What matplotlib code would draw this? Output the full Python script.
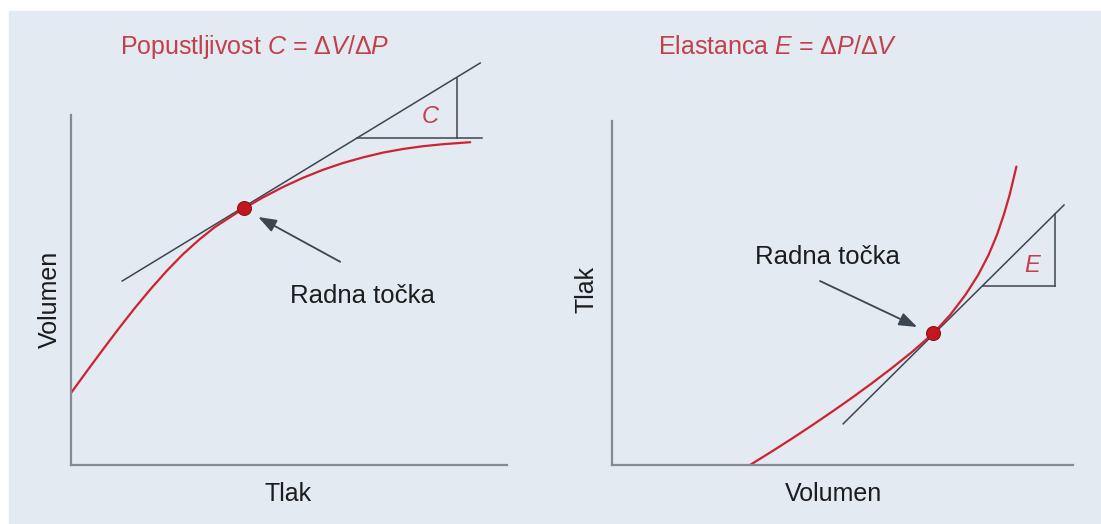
import matplotlib
matplotlib.use('Agg')
import matplotlib.pyplot as plt
from matplotlib import font_manager
from matplotlib.patches import Rectangle

# Fonts: a narrow Helvetica-like face if available
names = {f.name for f in font_manager.fontManager.ttflist}
FONT = 'Liberation Sans Narrow' if 'Liberation Sans Narrow' in names else 'Liberation Sans'
plt.rcParams['font.family'] = [FONT, 'DejaVu Sans']
plt.rcParams['mathtext.fontset'] = 'custom'
plt.rcParams['mathtext.rm'] = FONT
plt.rcParams['mathtext.it'] = FONT + ':italic'

# ---- left panel: compliance (volume vs pressure) ----
tlak_c = [0.0, 0.4, 0.8, 1.2, 1.6, 2.0, 2.4, 2.8, 3.2, 3.6, 4.0, 4.33,
          4.8, 5.3, 5.8, 6.3, 6.8, 7.3, 7.8, 8.3, 8.8, 9.3, 9.98]
vol_c = [1.80, 2.35, 2.89, 3.42, 3.93, 4.41, 4.86, 5.27, 5.63, 5.95, 6.21, 6.42,
         6.69, 6.95, 7.18, 7.38, 7.55, 7.69, 7.81, 7.90, 7.97, 8.02, 8.07]
radna_c = (4.33, 6.42)
tangent_c_x = [1.28, 10.23]
tangent_c_y = [4.60, 10.05]
tri_c_h_x = [7.15, 10.28]   # horizontal leg
tri_c_h_y = [8.18, 8.18]
tri_c_v_x = [9.65, 9.65]    # vertical leg
tri_c_v_y = [8.18, 9.68]

# ---- right panel: elastance (pressure vs volume) ----
vol_e = [3.45, 4.0, 4.5, 5.0, 5.5, 6.0, 6.5, 7.0, 7.5, 8.03,
         8.453, 8.833, 9.153, 9.413, 9.623, 9.793, 9.94, 10.06, 10.11]
tlak_e = [0.0, 0.341, 0.661, 0.991, 1.331, 1.681, 2.046, 2.426, 2.826, 3.29,
          3.75, 4.25, 4.75, 5.25, 5.75, 6.25, 6.75, 7.25, 7.46]
radna_e = (8.03, 3.29)
tangent_e_x = [5.78, 11.30]
tangent_e_y = [1.03, 6.50]
tri_e_h_x = [9.27, 11.08]
tri_e_h_y = [4.48, 4.48]
tri_e_v_x = [11.08, 11.08]
tri_e_v_y = [4.48, 6.27]

BG = '#e3eaf2'
RED = '#cc2232'
TITLE_RED = '#c2404c'
DARK = '#3b4650'
AXIS = '#838a92'
TXT = '#1c1c1c'
ARROW = '-|>,head_length=0.55,head_width=0.2'

W, H = 1101, 524
fig = plt.figure(figsize=(W / 100, H / 100), dpi=100, facecolor='white')
fig.patches.append(Rectangle((9 / W, 0), 1 - 9 / W, (H - 11) / H,
                             transform=fig.transFigure, color=BG, zorder=-10))

U = 40  # pixels per data unit
ax1 = fig.add_axes([71 / W, 59 / H, 11 * U / W, 10.625 * U / H])
ax2 = fig.add_axes([612 / W, 59 / H, 12 * U / W, 10.625 * U / H])
ax1.set_xlim(0, 11)
ax2.set_xlim(0, 12)

for ax, ytop, xend in [(ax1, 8.75, 10.9), (ax2, 8.6, 11.53)]:
    ax.set_ylim(0, 10.625)
    ax.set_facecolor('none')
    ax.set_xticks([])
    ax.set_yticks([])
    for s in ['top', 'right']:
        ax.spines[s].set_visible(False)
    for s in ['left', 'bottom']:
        ax.spines[s].set_color(AXIS)
        ax.spines[s].set_linewidth(1.6)
    ax.spines['left'].set_bounds(0, ytop)
    ax.spines['bottom'].set_bounds(0, xend)

# left
ax1.plot(tangent_c_x, tangent_c_y, color=DARK, lw=1.1, clip_on=False)
ax1.plot(tri_c_h_x, tri_c_h_y, color=DARK, lw=1.1, clip_on=False)
ax1.plot(tri_c_v_x, tri_c_v_y, color=DARK, lw=1.1, clip_on=False)
ax1.plot(tlak_c, vol_c, color=RED, lw=1.6, clip_on=False, solid_capstyle='round')
ax1.plot(*radna_c, 'o', ms=10, color='#c3161e', mec='#8d1218', mew=0.8, zorder=5)
ax1.text(8.98, 8.72, 'C', color=TITLE_RED, fontsize=17, style='italic', ha='center', va='center')
ax1.annotate('', xy=(4.68, 6.2), xytext=(6.73, 5.08),
             arrowprops=dict(arrowstyle=ARROW, color=DARK, lw=1.3, mutation_scale=20,
                             shrinkA=0, shrinkB=0))
ax1.text(7.28, 4.23, 'Radna točka', fontsize=18.5, color=TXT, ha='center', va='center')
ax1.text(5.43, -0.73, 'Tlak', fontsize=18, color=TXT, ha='center', va='center')
ax1.text(-0.53, 4.13, 'Volumen', fontsize=18, color=TXT, ha='center', va='center', rotation=90)
ax1.text(4.58, 10.45, 'Popustljivost $C$ = Δ$V$/Δ$P$', fontsize=18, color=TITLE_RED,
         ha='center', va='center')

# right
ax2.plot(tangent_e_x, tangent_e_y, color=DARK, lw=1.1, clip_on=False)
ax2.plot(tri_e_h_x, tri_e_h_y, color=DARK, lw=1.1, clip_on=False)
ax2.plot(tri_e_v_x, tri_e_v_y, color=DARK, lw=1.1, clip_on=False)
ax2.plot(vol_e, tlak_e, color=RED, lw=1.6, clip_on=False, solid_capstyle='round')
ax2.plot(*radna_e, 'o', ms=10, color='#c3161e', mec='#8d1218', mew=0.8, zorder=5)
ax2.text(10.5, 5.0, 'E', color=TITLE_RED, fontsize=17, style='italic', ha='center', va='center')
ax2.annotate('', xy=(7.63, 3.45), xytext=(5.2, 4.6),
             arrowprops=dict(arrowstyle=ARROW, color=DARK, lw=1.3, mutation_scale=20,
                             shrinkA=0, shrinkB=0))
ax2.text(5.38, 5.2, 'Radna točka', fontsize=18.5, color=TXT, ha='center', va='center')
ax2.text(5.53, -0.73, 'Volumen', fontsize=18, color=TXT, ha='center', va='center')
ax2.text(-0.63, 4.38, 'Tlak', fontsize=18, color=TXT, ha='center', va='center', rotation=90)
ax2.text(4.15, 10.45, 'Elastanca $E$ = Δ$P$/Δ$V$', fontsize=18, color=TITLE_RED,
         ha='center', va='center')

fig.savefig('out.png', dpi=100, facecolor=fig.get_facecolor())
